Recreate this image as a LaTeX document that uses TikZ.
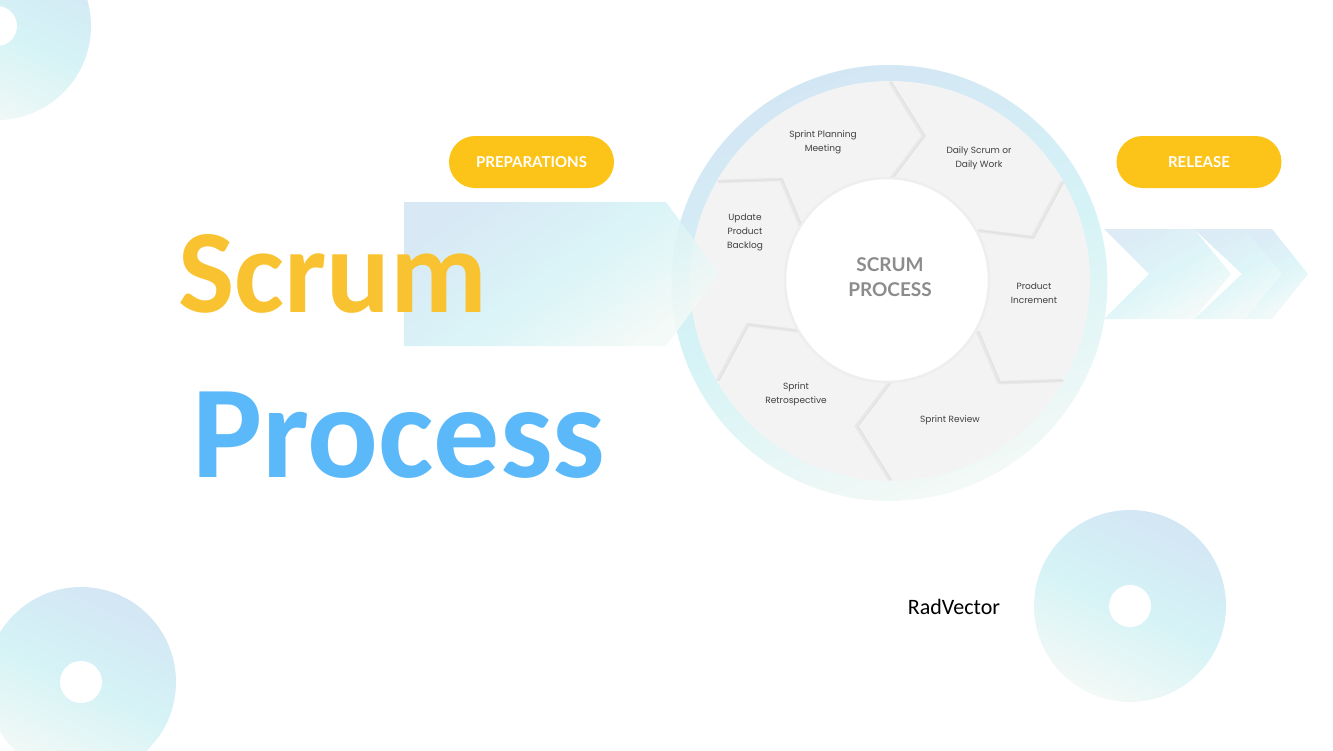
\documentclass[tikz,border=0pt]{standalone}
\usepackage{fontspec}
\setmainfont{Carlito}
\newfontfamily\latofont{Lato}
\newfontfamily\popfont{Poppins}
\definecolor{cA}{RGB}{211,230,244}
\definecolor{cB}{RGB}{213,243,246}
\definecolor{cC}{RGB}{243,249,246}
\definecolor{pillc}{RGB}{252,196,25}
\definecolor{scrumc}{RGB}{249,194,49}
\definecolor{procc}{RGB}{91,185,250}
\definecolor{diskc}{RGB}{243,243,243}
\definecolor{sepc}{RGB}{232,232,232}
\definecolor{sepd}{RGB}{224,224,224}
\definecolor{rimc}{RGB}{238,238,238}
\definecolor{lblc}{RGB}{64,64,64}
\definecolor{ctrc}{RGB}{140,140,140}
\tikzset{
  grad/.style={top color=cA, bottom color=cC, middle color=cB, shading angle=#1},
  grad/.default=-25,
  donut/.style={grad=-25},
  hole/.style={fill=white},
  sepline/.style={draw=sepc, line width=3.5pt, line join=miter, line cap=butt},
  sepedge/.style={draw=sepd, line width=0.8pt, line join=miter},
  lbl/.style={align=center, inner sep=0pt, text=lblc, font=\popfont\fontsize{9}{14}\selectfont},
  pill/.style={fill=pillc, rounded corners=26pt, minimum width=165pt, minimum height=52pt, inner sep=0pt, text=white, font=\latofont\bfseries\fontsize{15}{15}\selectfont},
  chev/.style={grad=30, fill opacity=0.8}
}
\begin{document}
\begin{tikzpicture}[x=1pt,y=-1pt]
\useasboundingbox (0,0) rectangle (1333,750);
\clip (0,0) rectangle (1333,750);
% background donuts
\shade[donut] (-3,26) circle (94pt);
\fill[hole] (-3,26) circle (20pt);
\shade[donut] (81,682) circle (95pt);
\fill[hole] (81,682) circle (21pt);
\shade[donut] (1130,606) circle (96pt);
\fill[hole] (1130,606) circle (21pt);
% ring
\shade[grad=20] (889.5,283) circle (218pt);
\fill[diskc] (890,281) circle (200pt);
\foreach \a [count=\i] in {90,30,-30,-90,-150,150} {
  \pgfmathsetmacro\b{\a-13}
  \coordinate (so\i) at ([shift={(890,281)}]\a:199pt);
  \coordinate (st\i) at ([shift={(890,281)}]\b:149pt);
  \coordinate (si\i) at ([shift={(890,281)}]\a:101pt);
  \draw[sepline] (so\i) -- (st\i) -- (si\i);
  \draw[sepedge] ([xshift=1.5pt]so\i) -- ([xshift=1.5pt]st\i) -- ([xshift=1.5pt]si\i);
}
\fill[white] (887,280) circle (102pt);
\draw[draw=rimc, line width=2.5pt] (887,280) circle (102pt);
\node[align=center, inner sep=0pt, text=ctrc, font=\latofont\bfseries\fontsize{19}{25}\selectfont] (ctr) at (890,277) {SCRUM\\PROCESS};
% segment labels
\node[lbl] (l1) at (823,142) {Sprint Planning\\Meeting};
\node[lbl] (l2) at (979,158) {Daily Scrum or\\Daily Work};
\node[lbl] (l3) at (1034,293) {Product\\Increment};
\node[lbl] (l4) at (950,420) {Sprint Review};
\node[lbl] (l5) at (796,394) {Sprint\\Retrospective};
\node[lbl] (l6) at (745,232) {Update\\Product\\Backlog};
% left arrow
\shade[grad=35, fill opacity=0.88] (404,202) -- (666,202) -- (719,274) -- (666,346) -- (404,346) -- cycle;
% right chevrons
\shade[chev] (1104,229) -- (1194,229) -- (1231,274) -- (1194,319) -- (1104,319) -- (1149,274) -- cycle;
\shade[chev] (1194,229) -- (1245,229) -- (1282,274) -- (1245,319) -- (1194,319) -- (1242,274) -- cycle;
\shade[chev] (1245,229) -- (1272,229) -- (1308,274) -- (1272,319) -- (1245,319) -- (1282,274) -- cycle;
% pills
\node[pill] (prep) at (531.5,162) {PREPARATIONS};
\node[pill] (rel) at (1199,162) {RELEASE};
% titles
\node[anchor=base west, inner sep=0pt, text=scrumc, font=\bfseries\fontsize{119}{119}\selectfont] (scrum) at (178,312) {Scrum};
\node[anchor=base west, inner sep=0pt, text=procc, font=\bfseries\fontsize{132}{132}\selectfont] (proc) at (192,477) {Process};
\node[inner sep=0pt, text=black, font=\fontsize{22}{22}\selectfont] (rad) at (954,607) {RadVector};
\end{tikzpicture}
\end{document}
